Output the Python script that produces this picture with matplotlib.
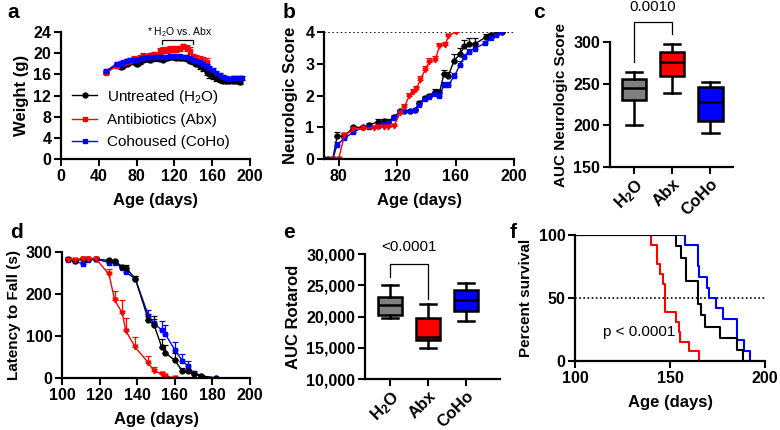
import matplotlib
matplotlib.use('Agg')
import matplotlib.pyplot as plt
import numpy as np

plt.rcParams['font.family'] = ['Liberation Sans', 'DejaVu Sans']
plt.rcParams['font.weight'] = 'bold'
plt.rcParams['axes.labelweight'] = 'bold'
plt.rcParams['mathtext.default'] = 'regular'
plt.rcParams['axes.linewidth'] = 1.6

BLACK = '#000000'
RED = '#ff0000'
BLUE = '#0000ff'
GRAY = '#808080'

# ---- panel a: weight ----
age_a = [48, 59, 63, 66, 70, 73, 77, 80, 84, 87, 91, 94, 98, 101, 105, 108, 112, 115, 119, 122,
         126, 129, 133, 136, 140, 143, 147, 150, 154, 157, 161, 164, 168, 171, 175, 178, 182, 185, 189, 192]
w_h2o = [16.4, 17.8, 17.4, 17.6, 18.0, 18.3, 18.4, 18.0, 18.4, 18.7, 18.9, 18.8, 19.0, 19.0, 18.9, 18.8,
         19.0, 19.2, 19.2, 19.1, 19.0, 19.0, 18.9, 18.6, 18.4, 18.0, 17.6, 17.2, 16.5, 16.0, 15.7, 15.3,
         15.0, 14.8, 14.8, 14.8, 14.8, 14.8, 14.6]
e_h2o = [0.3, 0.3, 0.3, 0.3, 0.4, 0.4, 0.4, 0.4, 0.4, 0.4, 0.4, 0.4, 0.4, 0.3, 0.3, 0.3, 0.3, 0.3, 0.3,
         0.3, 0.3, 0.3, 0.3, 0.4, 0.4, 0.4, 0.5, 0.5, 0.6, 0.6, 0.5, 0.5, 0.5, 0.4, 0.4, 0.4, 0.4, 0.4, 0.4]
w_abx = [16.3, 17.6, 18.2, 18.2, 18.4, 18.6, 18.9, 18.8, 19.1, 19.5, 19.3, 19.6, 19.8, 19.6, 20.4, 20.6,
         20.6, 20.8, 20.8, 20.8, 20.9, 21.3, 21.0, 20.5, 19.2, 19.0, 18.8, 18.5, 18.3]
e_abx = [0.3, 0.4, 0.4, 0.4, 0.5, 0.5, 0.5, 0.5, 0.5, 0.5, 0.5, 0.5, 0.5, 0.5, 0.5, 0.5, 0.5, 0.5, 0.5,
         0.5, 0.5, 0.5, 0.6, 0.6, 0.7, 0.7, 0.7, 0.7, 0.7]
w_coho = [16.7, 18.0, 18.0, 18.3, 18.6, 18.8, 18.8, 18.8, 18.9, 19.0, 19.2, 19.2, 19.3, 19.3, 19.3, 19.2,
          19.3, 19.4, 19.4, 19.4, 19.4, 19.3, 19.2, 19.0, 18.8, 18.6, 18.3, 18.0, 17.6, 17.2, 16.8, 16.3,
          15.8, 15.5, 15.3, 15.2, 15.3, 15.3, 15.3, 15.3]
e_coho = [0.3, 0.3, 0.3, 0.3, 0.3, 0.3, 0.3, 0.3, 0.3, 0.3, 0.3, 0.3, 0.3, 0.3, 0.3, 0.3, 0.3, 0.3, 0.3,
          0.3, 0.3, 0.3, 0.3, 0.3, 0.3, 0.3, 0.3, 0.3, 0.3, 0.3, 0.4, 0.4, 0.4, 0.4, 0.3, 0.3, 0.3, 0.3, 0.3, 0.3]
legend_labels = ['Untreated (H$_2$O)', 'Antibiotics (Abx)', 'Cohoused (CoHo)']

# ---- panel b: neurologic score ----
age_b_h2o = [70, 73, 76, 79, 84, 90, 97, 101, 107, 111, 114, 118, 122, 125, 129, 132, 135, 139, 142, 146,
             149, 152, 155, 159, 163, 166, 169, 173, 181, 184, 188, 192]
ns_h2o = [0, 0, 0, 0.72, 0.72, 1.0, 1.0, 1.07, 1.18, 1.2, 1.18, 1.33, 1.5, 1.5, 1.5, 1.53, 1.75, 1.92, 2.0,
          2.12, 2.1, 2.67, 2.62, 3.1, 3.3, 3.55, 3.62, 3.62, 3.85, 3.9, 3.95, 4.0]
ns_h2o_err = [0, 0, 0, 0.13, 0.1, 0.03, 0.03, 0.05, 0.07, 0.07, 0.08, 0.05, 0.03, 0.03, 0.03, 0.03, 0.07,
              0.05, 0.05, 0.07, 0.07, 0.12, 0.12, 0.2, 0.2, 0.2, 0.18, 0.18, 0.1, 0.08, 0.05, 0]
age_b_abx = [76, 80, 84, 90, 97, 104, 107, 111, 114, 118, 122, 125, 128, 131, 133, 136, 139, 142, 146, 149,
             153, 155, 160]
ns_abx = [0, 0, 0.75, 0.93, 0.97, 0.98, 1.0, 1.0, 1.0, 1.05, 1.45, 1.63, 1.97, 2.1, 2.2, 2.5, 2.8, 3.05,
          3.12, 3.55, 3.6, 3.87, 4.0]
ns_abx_err = [0, 0, 0.05, 0.03, 0.03, 0.03, 0.03, 0.03, 0.03, 0.03, 0.05, 0.1, 0.1, 0.1, 0.1, 0.1, 0.12,
              0.12, 0.12, 0.1, 0.1, 0.08, 0]
age_b_coho = [70, 73, 76, 79, 84, 90, 97, 101, 107, 111, 114, 118, 122, 125, 129, 132, 135, 139, 142, 146,
              149, 152, 155, 159, 163, 166, 169, 173, 180, 184, 188, 191]
ns_coho = [0, 0, 0, 0.45, 0.65, 0.85, 1.0, 1.0, 1.05, 1.1, 1.12, 1.3, 1.5, 1.5, 1.5, 1.53, 1.7, 1.9, 1.95,
           2.05, 2.0, 2.33, 2.33, 2.6, 2.96, 3.22, 3.38, 3.48, 3.64, 3.8, 3.9, 4.0]
ns_coho_err = [0, 0, 0, 0.1, 0.08, 0.05, 0.03, 0.03, 0.05, 0.07, 0.07, 0.05, 0.03, 0.03, 0.03, 0.03, 0.05,
               0.05, 0.05, 0.05, 0.05, 0.1, 0.1, 0.12, 0.12, 0.1, 0.1, 0.08, 0.08, 0.05, 0.05, 0]

# ---- panel c / e: AUC box stats (H2O, Abx, CoHo) ----
groups = ['H$_2$O', 'Abx', 'CoHo']
box_colors = [GRAY, RED, BLUE]
c_lo = [200, 239, 191]
c_q1 = [230, 259, 205]
c_med = [245, 276, 228]
c_q3 = [256, 288, 246]
c_hi = [264, 298, 252]
e_lo = [19800, 15000, 19300]
e_q1 = [20200, 16300, 20900]
e_med = [21800, 16800, 22600]
e_q3 = [23100, 19800, 24200]
e_hi = [25000, 22000, 25400]

# ---- panel d: rotarod ----
age_d = [103, 107, 111, 114, 118, 125, 128, 132, 134, 139, 146, 149, 153, 155, 160, 164, 167, 170, 174, 182]
lat_h2o = [284, 279, 283, 283, 283, 280, 279, 265, 263, 236, 138, 126, 74, 60, 42, 17, 16, 9, 5, 0]
lat_h2o_err = [3, 3, 3, 3, 3, 3, 3, 5, 5, 8, 15, 22, 20, 18, 18, 6, 5, 3, 2, 0]
lat_abx = [282, 282, 284, 284, 284, 247, 186, 155, 112, 73, 36, 16, 10, 5, 0]
lat_abx_err = [3, 3, 5, 5, 3, 13, 22, 30, 30, 25, 16, 10, 4, 3, 0]
lat_coho = [280, 278, 272, 280, 283, 275, 275, 262, 252, 236, 148, 130, 114, 104, 67, 41, 28, 12, 5, 0]
lat_coho_err = [3, 3, 5, 3, 3, 3, 3, 5, 5, 8, 15, 10, 22, 22, 18, 15, 12, 5, 3, 0]

# ---- panel f: survival ----
t_abx = [100, 140, 143, 144.5, 146.5, 147.5, 153, 154.5, 155.5, 160, 165]
s_abx = [100, 92.3, 76.9, 69.2, 61.5, 38.5, 30.8, 23.1, 15.4, 7.7, 0]
t_h2o = [100, 153, 156, 158.5, 164.5, 166.5, 168.5, 176.5, 185.5, 188.5]
s_h2o = [100, 90.9, 81.8, 63.6, 45.5, 36.4, 27.3, 18.2, 9.1, 0]
t_coho = [100, 158, 164.5, 165.5, 169.5, 170.5, 174, 178, 185.5, 189, 192]
s_coho = [100, 91.7, 75, 66.7, 58.3, 50, 41.7, 33.3, 16.7, 8.3, 0]

TICK = 11.5
LAB = 12

fig = plt.figure(figsize=(7.8, 4.3), dpi=100)
ax_a = fig.add_axes([0.0782, 0.6302, 0.2423, 0.2953])
ax_b = fig.add_axes([0.4154, 0.6302, 0.2436, 0.2953])
ax_c = fig.add_axes([0.7821, 0.6116, 0.1577, 0.2907])
ax_d = fig.add_axes([0.0795, 0.1209, 0.2410, 0.2930])
ax_e = fig.add_axes([0.4680, 0.1186, 0.1731, 0.2907])
ax_f = fig.add_axes([0.7372, 0.1605, 0.2436, 0.2930])


def style(ax):
    for s in ['top', 'right']:
        ax.spines[s].set_visible(False)
    ax.tick_params(direction='out', length=5, width=1.5, labelsize=TICK, pad=2)


def series(ax, x, y, err, color, marker, upper=False):
    x = x[:len(y)]
    yerr = [np.zeros(len(err)), err] if upper else err
    eb = ax.errorbar(x, y, yerr=yerr, color=color, marker=marker, ms=3.5, lw=1.0,
                     elinewidth=0.9, capsize=2.2, capthick=0.9)
    return eb.lines[0]


# panel a
style(ax_a)
l1 = series(ax_a, age_a, w_h2o, e_h2o, BLACK, 'o')
l2 = series(ax_a, age_a, w_abx, e_abx, RED, 's')
l3 = series(ax_a, age_a, w_coho, e_coho, BLUE, 's')
ax_a.set_xlim(0, 200)
ax_a.set_ylim(0, 24)
ax_a.set_xticks(np.arange(0, 201, 40))
ax_a.set_yticks(np.arange(0, 25, 4))
ax_a.set_xlabel('Age (days)', fontsize=LAB, labelpad=7)
ax_a.set_ylabel('Weight (g)', fontsize=LAB, labelpad=3)
ax_a.plot([107, 107, 140, 140], [21.8, 22.5, 22.5, 21.8], color=BLACK, lw=0.9, clip_on=False)
ax_a.text(126, 24.0, '* H$_2$O vs. Abx', ha='center', va='center', fontsize=7.5,
          fontweight='normal', clip_on=False)
ax_a.legend([l1, l2, l3], legend_labels, loc='lower left', bbox_to_anchor=(0.06, 0.08), frameon=False,
            prop={'weight': 'normal', 'size': 11}, handlelength=1.6, handletextpad=0.7,
            labelspacing=0.5, borderpad=0, borderaxespad=0)

# panel b
style(ax_b)
ax_b.axhline(4, color=BLACK, lw=1.2, ls=(0, (1, 1.5)))
series(ax_b, age_b_h2o, ns_h2o, ns_h2o_err, BLACK, 'o', upper=True)
series(ax_b, age_b_coho, ns_coho, ns_coho_err, BLUE, 's', upper=True)
series(ax_b, age_b_abx, ns_abx, ns_abx_err, RED, 'v', upper=True)
ax_b.set_xlim(70, 200)
ax_b.set_ylim(0, 4)
ax_b.set_xticks([80, 120, 160, 200])
ax_b.set_yticks([0, 1, 2, 3, 4])
ax_b.set_xlabel('Age (days)', fontsize=LAB, labelpad=7)
ax_b.set_ylabel('Neurologic Score', fontsize=LAB, labelpad=5)


def boxes(ax, lo, q1, med, q3, hi):
    stats = [dict(whislo=lo[i], q1=q1[i], med=med[i], q3=q3[i], whishi=hi[i], label=groups[i])
             for i in range(len(groups))]
    bp = ax.bxp(stats, positions=range(len(groups)), widths=0.65, showfliers=False, patch_artist=True,
                boxprops=dict(lw=1.8, edgecolor=BLACK), medianprops=dict(color=BLACK, lw=1.8),
                whiskerprops=dict(lw=1.8), capprops=dict(lw=1.8))
    for patch, col in zip(bp['boxes'], box_colors):
        patch.set_facecolor(col)
    for cap in bp['caps']:
        mid = np.mean(cap.get_xdata())
        cap.set_xdata([mid - 0.22, mid + 0.22])
    ax.set_xticks(range(len(groups)))
    ax.set_xticklabels(groups, rotation=45, ha='right', rotation_mode='anchor', fontsize=12)


# panel c
style(ax_c)
boxes(ax_c, c_lo, c_q1, c_med, c_q3, c_hi)
ax_c.set_xlim(-0.63, 2.6)
ax_c.set_ylim(150, 300)
ax_c.set_yticks([150, 200, 250, 300])
ax_c.set_ylabel('AUC Neurologic Score', fontsize=11, labelpad=4)
ax_c.plot([0, 0, 1, 1], [276, 324, 324, 310], color=BLACK, lw=0.9, clip_on=False)
ax_c.text(0.5, 342, '0.0010', ha='center', va='center', fontsize=11, fontweight='normal', clip_on=False)

# panel d
style(ax_d)
series(ax_d, age_d, lat_coho, lat_coho_err, BLUE, 's', upper=True)
series(ax_d, age_d, lat_h2o, lat_h2o_err, BLACK, 'o', upper=True)
series(ax_d, age_d, lat_abx, lat_abx_err, RED, 'v', upper=True)
ax_d.set_xlim(100, 200)
ax_d.set_ylim(0, 300)
ax_d.set_xticks(np.arange(100, 201, 20))
ax_d.set_yticks([0, 100, 200, 300])
ax_d.set_xlabel('Age (days)', fontsize=LAB, labelpad=7)
ax_d.set_ylabel('Latency to Fall (s)', fontsize=11, labelpad=3)

# panel e
style(ax_e)
boxes(ax_e, e_lo, e_q1, e_med, e_q3, e_hi)
ax_e.set_xlim(-0.66, 2.9)
ax_e.set_ylim(10000, 30000)
ax_e.set_yticks(np.arange(10000, 30001, 5000))
ax_e.yaxis.set_major_formatter(matplotlib.ticker.StrMethodFormatter('{x:,.0f}'))
ax_e.set_ylabel('AUC Rotarod', fontsize=LAB, labelpad=4)
ax_e.plot([0, 0, 1, 1], [26300, 28400, 28400, 22800], color=BLACK, lw=0.9, clip_on=False)
ax_e.text(0.5, 31100, '<0.0001', ha='center', va='center', fontsize=11, fontweight='normal', clip_on=False)

# panel f
style(ax_f)
ax_f.axhline(50, color=BLACK, lw=1.2, ls=(0, (1, 1.5)))
ax_f.step(t_abx, s_abx, where='post', color=RED, lw=1.5)
ax_f.step(t_coho, s_coho, where='post', color=BLUE, lw=1.5)
ax_f.step(t_h2o, s_h2o, where='post', color=BLACK, lw=1.5)
ax_f.set_xlim(100, 200)
ax_f.set_ylim(0, 100)
ax_f.set_xticks([100, 150, 200])
ax_f.set_yticks([0, 50, 100])
ax_f.set_xlabel('Age (days)', fontsize=LAB, labelpad=7)
ax_f.set_ylabel('Percent survival', fontsize=11, labelpad=4)
ax_f.text(114.5, 23, 'p < 0.0001', ha='left', va='center', fontsize=11, fontweight='normal')

# panel letters
for lab, (x, y) in zip('abcdef', [(7, 13), (283, 12), (533, 12), (10, 233), (283, 232), (510, 232)]):
    fig.text(x / 780, 1 - y / 430, lab, fontsize=15, fontweight='bold', ha='left', va='center')

fig.savefig('out.png', dpi=100)
